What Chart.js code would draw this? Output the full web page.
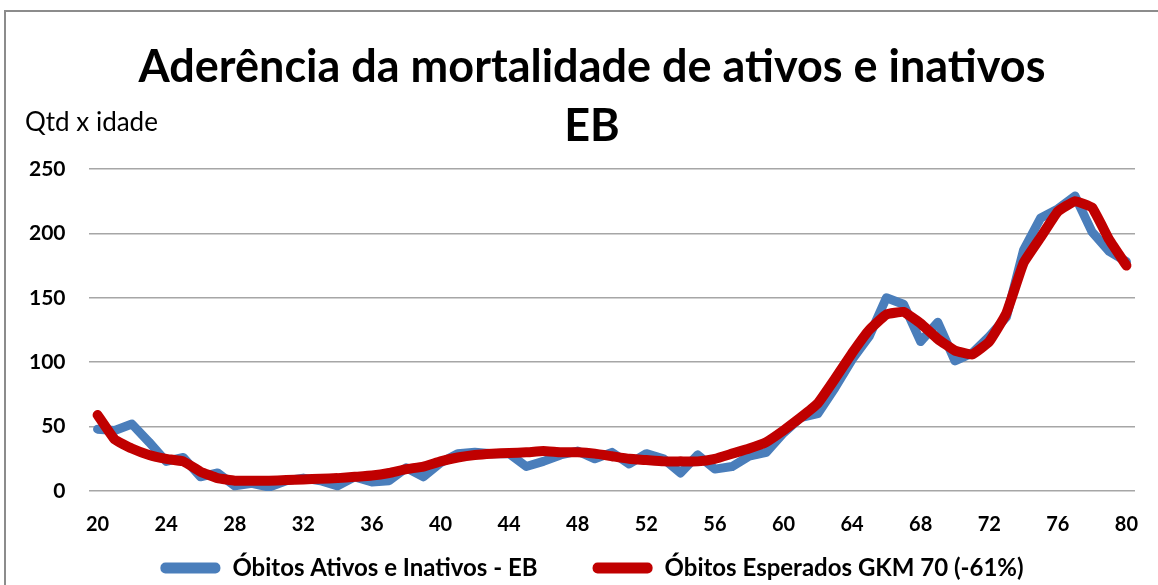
<!DOCTYPE html>
<html>
<head>
    <title>Aderência da mortalidade</title>
    <script src="https://cdn.jsdelivr.net/npm/chart.js@4.4.0/dist/chart.umd.min.js"></script>
    <style>
        body { margin: 0; background: #fff; }
        #wrap { position: relative; width: 1158px; height: 585px; overflow: hidden; }
        #frame { position: absolute; left: 4px; top: 10px; width: 1200px; height: 600px;
                 border-left: 2px solid #8c8c8c; border-top: 2px solid #8c8c8c; pointer-events: none; }
    </style>
</head>
<body>
    <div id="wrap">
        <canvas id="chart" width="1158" height="585"></canvas>
        <div id="frame"></div>
    </div>

    <script>
        // ages (categories)
        const idades = [20, 21, 22, 23, 24, 25, 26, 27, 28, 29, 30, 31, 32, 33, 34, 35, 36, 37, 38, 39, 40,
                        41, 42, 43, 44, 45, 46, 47, 48, 49, 50, 51, 52, 53, 54, 55, 56, 57, 58, 59, 60,
                        61, 62, 63, 64, 65, 66, 67, 68, 69, 70, 71, 72, 73, 74, 75, 76, 77, 78, 79, 80];
        const tickLabels = ['20', '24', '28', '32', '36', '40', '44', '48', '52', '56', '60', '64', '68', '72', '76', '80'];

        // observed deaths
        const obitosObservados = [48, 47, 52, 38, 23, 26, 11, 14, 4, 6, 3, 8, 10, 8, 4, 11, 7, 8, 18, 11, 22,
                                  29, 30, 29, 29, 19, 23, 28, 31, 25, 30, 21, 29, 25, 14, 28, 17, 19, 27, 30, 45,
                                  57, 60, 80, 102, 120, 150, 145, 116, 131, 101, 107, 120, 135, 187, 212, 219, 229, 201, 186, 178];
        // expected deaths GKM 70 (-61%)
        const obitosEsperados = [59, 40, 33, 28, 25, 23, 15, 10, 8, 8, 8, 8.5, 9, 9.5, 10, 11, 12, 14, 17, 19, 23,
                                 26, 28, 29, 29.5, 30, 31, 30, 30, 29, 27, 25, 24, 23, 23, 23, 25, 29, 33, 38, 47,
                                 57, 68, 87, 107, 125, 137, 139, 130, 118, 109, 106, 116, 138, 177, 197, 217, 225, 220, 195, 175];

        const yTicks = [0, 50, 100, 150, 200, 250];

        const FONT = 'Lato, "Open Sans", sans-serif';

        // small note above the y axis
        const axisNote = {
            id: 'axisNote',
            afterDraw(chart) {
                const c = chart.ctx;
                c.save();
                c.font = '26px ' + FONT;
                c.fillStyle = '#000';
                c.textBaseline = 'middle';
                c.fillText('Qtd x idade', 25, 123);
                c.restore();
            }
        };

        new Chart(document.getElementById('chart').getContext('2d'), {
            type: 'line',
            data: {
                labels: idades.map(String),
                datasets: [{
                    label: 'Óbitos Ativos e Inativos - EB',
                    data: obitosObservados,
                    borderColor: '#4a7ebb',
                    backgroundColor: '#4a7ebb',
                    borderWidth: 9,
                    tension: 0,
                    pointRadius: 0,
                    borderJoinStyle: 'round',
                    borderCapStyle: 'round',
                    order: 2
                }, {
                    label: 'Óbitos Esperados GKM 70 (-61%)',
                    data: obitosEsperados,
                    borderColor: '#c00000',
                    backgroundColor: '#c00000',
                    borderWidth: 10,
                    tension: 0.1,
                    pointRadius: 0,
                    borderJoinStyle: 'round',
                    borderCapStyle: 'round',
                    order: 1
                }]
            },
            options: {
                responsive: false,
                animation: false,
                layout: { padding: { left: 49, right: 23, top: 20, bottom: -5 } },
                plugins: {
                    title: {
                        display: true,
                        text: ['Aderência da mortalidade de ativos e inativos', 'EB'],
                        color: '#000',
                        font: { family: FONT, size: 45, weight: 'bold', lineHeight: 1.333 },
                        padding: { top: 17, bottom: 12 }
                    },
                    legend: {
                        position: 'bottom',
                        labels: {
                            color: '#000',
                            font: { family: FONT, size: 24, weight: 'bold', lineHeight: 1 },
                            boxWidth: 60,
                            boxHeight: 11,
                            useBorderRadius: true,
                            borderRadius: 5,
                            padding: 55,
                            sort: (a, b) => a.datasetIndex - b.datasetIndex,
                            generateLabels: chart => Chart.defaults.plugins.legend.labels.generateLabels(chart)
                                .map(item => ({ ...item, lineWidth: 0 }))
                        }
                    },
                    tooltip: { enabled: false }
                },
                scales: {
                    x: {
                        offset: true,
                        afterFit: s => { s.height = 10; },
                        grid: { display: false },
                        border: { display: false },
                        ticks: {
                            autoSkip: false,
                            maxRotation: 0,
                            mirror: true,
                            color: '#000',
                            padding: -46,
                            font: { family: FONT, size: 20, weight: 'bold' },
                            callback: function (v) {
                                const lab = this.getLabelForValue(v);
                                return tickLabels.includes(lab) ? lab : '';
                            }
                        }
                    },
                    y: {
                        min: 0,
                        max: 250,
                        afterFit: s => { s.width = 40; },
                        afterBuildTicks: s => { s.ticks = yTicks.map(v => ({ value: v })); },
                        grid: { color: '#a6a6a6', lineWidth: 1.5, drawTicks: false },
                        border: { display: false },
                        ticks: {
                            mirror: true,
                            crossAlign: 'far',
                            color: '#000',
                            padding: -60,
                            font: { family: FONT, size: 21, weight: 'bold' }
                        }
                    }
                }
            },
            plugins: [axisNote]
        });
    </script>
</body>
</html>
